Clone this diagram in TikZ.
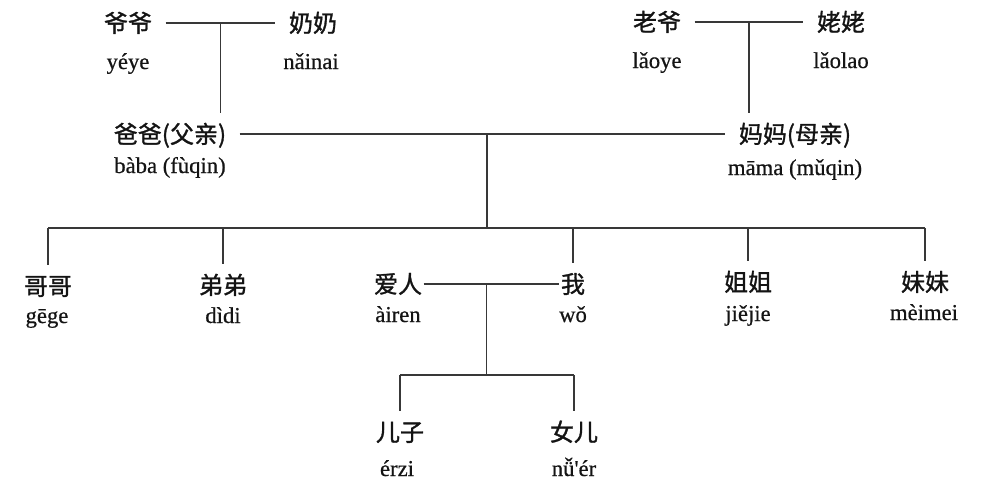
\documentclass[tikz,border=0pt]{standalone}
\usepackage{fontspec}
\newfontfamily\cjk[FakeBold=1.2]{Noto Sans CJK SC}
\newfontfamily\py[FakeBold=0.6]{Liberation Serif}
\usetikzlibrary{calc}
\begin{document}
\begin{tikzpicture}[x=0.75pt,y=-0.75pt,
  cn/.style={font=\cjk\fontsize{18pt}{20pt}\selectfont, text=black!92,
    text height=15.3pt, text depth=1.8pt, inner xsep=10pt, inner ysep=7pt, anchor=center},
  tight/.style={inner xsep=1pt},
  pin/.style={font=\py\fontsize{17pt}{19pt}\selectfont, text=black!92, inner sep=0pt, anchor=base},
  link/.style={draw=black!78, line width=0.85pt}]
\useasboundingbox (0,0) rectangle (984,482);
% generation 1
\node[cn] (yeye) at (128,23) {爷爷};
\node[pin] (yeyep) at (128,69) {yéye};
\node[cn] (nainai) at (313,23) {奶奶};
\node[pin] (nainaip) at (311,69) {nǎinai};
\node[cn] (laoye) at (657,22) {老爷};
\node[pin] (laoyep) at (657,68) {lǎoye};
\node[cn] (laolao) at (841,22) {姥姥};
\node[pin] (laolaop) at (841,68) {lǎolao};
% generation 2
\node[cn] (baba) at (170,134) {爸爸(父亲)};
\node[pin] (babap) at (170,173) {bàba (fùqin)};
\node[cn] (mama) at (795,134) {妈妈(母亲)};
\node[pin] (mamap) at (795,175) {māma (mǔqin)};
% generation 3
\node[cn] (gege) at (48,286) {哥哥};
\node[pin] (gegep) at (47,323) {gēge};
\node[cn] (didi) at (223,285) {弟弟};
\node[pin] (didip) at (223,323) {dìdi};
\node[cn,tight] (airen) at (398,284) {爱人};
\node[pin] (airenp) at (398,322) {àiren};
\node[cn,tight] (wo) at (573,284) {我};
\node[pin] (wop) at (573,322) {wǒ};
\node[cn] (jiejie) at (748,282) {姐姐};
\node[pin] (jiejiep) at (748,321) {jiějie};
\node[cn] (meimei) at (925,282) {妹妹};
\node[pin] (meimeip) at (924,320) {mèimei};
% generation 4
\node[cn] (erzi) at (400,432) {儿子};
\node[pin] (erzip) at (397,476) {érzi};
\node[cn] (nver) at (574,432) {女儿};
\node[pin] (nverp) at (574,476) {nǚ'ér};
% connectors
\coordinate (jL) at ($(yeye.east)!0.5!(nainai.west)$);
\coordinate (jR) at ($(laoye.east)!0.5!(laolao.west)$);
\draw[link] (yeye.east) -- (nainai.west);
\draw[link] (jL) -- (jL |- baba.north);
\draw[link] (laoye.east) -- (laolao.west);
\draw[link] (jR) -- (jR |- mama.north);
\draw[link] (baba.east) -- (mama.west);
\coordinate (pm) at (487,134);
\coordinate (sib) at (487,228);
\draw[link] (pm) -- (sib);
\draw[link] (gege.north |- sib) -- (meimei.north |- sib);
\foreach \n in {gege,didi,wo,jiejie,meimei}
  \draw[link] (\n.north |- sib) -- (\n.north);
\draw[link] (airen.east) -- (wo.west);
\coordinate (cp) at ($(airen.east)!0.46!(wo.west)$);
\coordinate (kid) at ($(cp)+(0,91)$);
\draw[link] (cp) -- (kid);
\draw[link] (erzi.north |- kid) -- (nver.north |- kid);
\draw[link] (erzi.north |- kid) -- (erzi.north);
\draw[link] (nver.north |- kid) -- (nver.north);
\end{tikzpicture}
\end{document}
